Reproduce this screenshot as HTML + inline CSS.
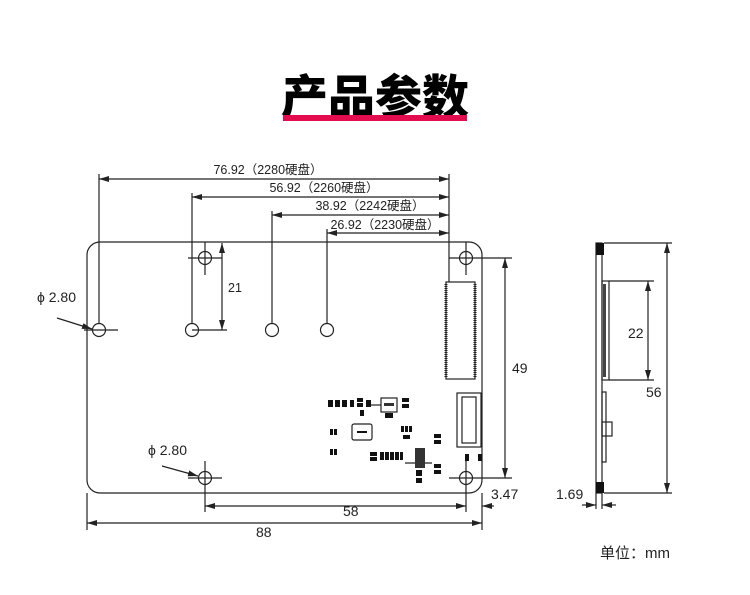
<!DOCTYPE html>
<html><head><meta charset="utf-8"><style>
html,body{margin:0;padding:0;background:#fff;width:750px;height:595px;overflow:hidden}
svg{display:block}
text{font-family:"Liberation Sans","Noto Sans CJK SC",sans-serif;fill:#222}
</style></head><body>
<svg width="750" height="595" viewBox="0 0 750 595" xmlns="http://www.w3.org/2000/svg">
<defs>
<marker id="a" viewBox="0 0 10 6" refX="10" refY="3" markerWidth="10" markerHeight="6" orient="auto-start-reverse" markerUnits="userSpaceOnUse"><path d="M0,0 L10,3 L0,6 z" fill="#222"/></marker>
</defs>
<!-- title -->
<text x="375" y="114" text-anchor="middle" font-size="47" font-weight="900" style="font-family:'Noto Sans CJK SC',sans-serif;fill:#000">产品参数</text>
<rect x="283" y="115" width="184" height="6" fill="#e30c4e"/>

<g stroke="#222" stroke-width="1.2" fill="none">
<path d="M100,242 H469 A13,13 0 0 1 482,255 V480 A13,13 0 0 1 469,493 H100 A13,13 0 0 1 87,480 V255 A13,13 0 0 1 100,242 Z"/>
<line x1="99" y1="179" x2="449" y2="179" marker-start="url(#a)" marker-end="url(#a)"/>
<line x1="192" y1="197" x2="449" y2="197" marker-start="url(#a)" marker-end="url(#a)"/>
<line x1="272" y1="215" x2="449" y2="215" marker-start="url(#a)" marker-end="url(#a)"/>
<line x1="327" y1="233" x2="449" y2="233" marker-start="url(#a)" marker-end="url(#a)"/>
<line x1="449" y1="174" x2="449" y2="282"/>
<line x1="99" y1="174" x2="99" y2="324"/>
<line x1="192" y1="193" x2="192" y2="324"/>
<line x1="272" y1="211" x2="272" y2="324"/>
<line x1="327" y1="229" x2="327" y2="324"/>
<circle cx="99" cy="330" r="6.5"/>
<circle cx="192" cy="330" r="6.5"/>
<circle cx="272" cy="330" r="6.5"/>
<circle cx="327" cy="330" r="6.5"/>
<line x1="84" y1="330" x2="118" y2="330"/>
<line x1="192" y1="330" x2="227" y2="330"/>
<circle cx="205" cy="258" r="6.5"/><line x1="188" y1="258" x2="222" y2="258"/><line x1="205" y1="242" x2="205" y2="275"/>
<circle cx="466" cy="258" r="6.5"/><line x1="449" y1="258" x2="512" y2="258"/><line x1="466" y1="242" x2="466" y2="275"/>
<circle cx="205" cy="478" r="6.5"/><line x1="188" y1="478" x2="222" y2="478"/><line x1="205" y1="461" x2="205" y2="512"/>
<circle cx="466" cy="478" r="6.5"/><line x1="449" y1="478" x2="512" y2="478"/><line x1="466" y1="461" x2="466" y2="512"/>
<line x1="222" y1="243" x2="222" y2="330" marker-start="url(#a)" marker-end="url(#a)"/>
<line x1="505" y1="258" x2="505" y2="478" marker-start="url(#a)" marker-end="url(#a)"/>
<line x1="205" y1="506" x2="466" y2="506" marker-start="url(#a)" marker-end="url(#a)"/>
<line x1="482" y1="493" x2="482" y2="530"/>
<line x1="87" y1="493" x2="87" y2="530"/>
<line x1="494" y1="506" x2="482" y2="506" marker-end="url(#a)"/>
<line x1="87" y1="523" x2="482" y2="523" marker-start="url(#a)" marker-end="url(#a)"/>
<line x1="57" y1="318" x2="92" y2="329" marker-end="url(#a)"/>
<line x1="162" y1="466" x2="198" y2="476" marker-end="url(#a)"/>
<rect x="446" y="282" width="29" height="97"/>
<line x1="446" y1="284" x2="446" y2="378" stroke-width="3" stroke-dasharray="1,1"/>
<line x1="475" y1="284" x2="475" y2="378" stroke-width="3" stroke-dasharray="1,1"/>
<rect x="457" y="393" width="24" height="54"/>
<rect x="462" y="397" width="14" height="46"/>
<rect x="352" y="424" width="20" height="16" rx="2"/>
<rect x="381" y="398" width="16" height="14"/>
<line x1="371" y1="405" x2="381" y2="405"/>
<line x1="405" y1="463" x2="432" y2="463"/>
<rect x="596" y="243" width="6" height="250"/>
<line x1="604" y1="243" x2="672" y2="243"/>
<line x1="604" y1="493" x2="672" y2="493"/>
<line x1="667" y1="243" x2="667" y2="493" marker-start="url(#a)" marker-end="url(#a)"/>
<rect x="602" y="281" width="7" height="99"/>
<line x1="609" y1="281" x2="654" y2="281"/>
<line x1="609" y1="380" x2="654" y2="380"/>
<line x1="648" y1="281" x2="648" y2="380" marker-start="url(#a)" marker-end="url(#a)"/>
<rect x="602" y="422" width="10" height="14"/>
<rect x="602" y="392" width="4" height="70"/>
<line x1="596" y1="493" x2="596" y2="509"/>
<line x1="602" y1="493" x2="602" y2="509"/>
<line x1="582" y1="505" x2="596" y2="505" marker-end="url(#a)"/>
<line x1="616" y1="505" x2="602" y2="505" marker-end="url(#a)"/>
</g>
<g fill="#111">
<rect x="328" y="400" width="5" height="7"/><rect x="335" y="400" width="5" height="7"/><rect x="342" y="400" width="5" height="7"/><rect x="350" y="400" width="4" height="7"/>
<rect x="357" y="398" width="6" height="4"/><rect x="357" y="403" width="6" height="4"/><rect x="360" y="410" width="4" height="6"/>
<rect x="366" y="400" width="5" height="7"/>
<rect x="384" y="403" width="10" height="3" fill="#333"/>
<rect x="385" y="413" width="8" height="5"/>
<rect x="402" y="398" width="7" height="4"/><rect x="402" y="404" width="7" height="4"/>
<rect x="330" y="429" width="3" height="6"/><rect x="334" y="429" width="3" height="6"/>
<rect x="330" y="449" width="3" height="6"/><rect x="334" y="449" width="3" height="6"/>
<rect x="357" y="431" width="10" height="2"/>
<rect x="401" y="426" width="3" height="6"/><rect x="405" y="426" width="3" height="6"/><rect x="409" y="426" width="3" height="6"/>
<rect x="403" y="435" width="7" height="4"/>
<rect x="434" y="434" width="7" height="4"/><rect x="434" y="440" width="7" height="4"/>
<rect x="370" y="452" width="7" height="4"/><rect x="370" y="457" width="7" height="4"/>
<rect x="380" y="452" width="4" height="8"/><rect x="385" y="452" width="4" height="8"/><rect x="390" y="452" width="4" height="8"/><rect x="395" y="452" width="4" height="8"/><rect x="400" y="452" width="3" height="8"/>
<rect x="415" y="448" width="10" height="20" fill="#333"/>
<rect x="416" y="470" width="6" height="6"/><rect x="416" y="478" width="6" height="5"/>
<rect x="434" y="464" width="7" height="4"/><rect x="434" y="470" width="7" height="4"/>
<rect x="465" y="454" width="4" height="7"/><rect x="478" y="454" width="4" height="7"/>
<rect x="596" y="243" width="8" height="12"/>
<rect x="596" y="482" width="8" height="11"/>
<rect x="603" y="284" width="3" height="93" fill="#444"/>
</g>
<g font-size="12.5">
<text x="268" y="174" text-anchor="middle">76.92（2280硬盘）</text>
<text x="324" y="192" text-anchor="middle">56.92（2260硬盘）</text>
<text x="370" y="210" text-anchor="middle">38.92（2242硬盘）</text>
<text x="385" y="229" text-anchor="middle">26.92（2230硬盘）</text>
<text x="228" y="292">21</text>
<text x="512" y="373" font-size="14">49</text>
<text x="343" y="516" font-size="14">58</text>
<text x="256" y="537" font-size="14">88</text>
<text x="491" y="499" font-size="14">3.47</text>
<text x="556" y="499" font-size="14">1.69</text>
<text x="628" y="338" font-size="14">22</text>
<text x="646" y="397" font-size="14">56</text>
<text x="37" y="302" font-size="14">ϕ 2.80</text>
<text x="148" y="455" font-size="14">ϕ 2.80</text>
<text x="600" y="558" font-size="15">单位：mm</text>
</g>
</svg>
</body></html>
